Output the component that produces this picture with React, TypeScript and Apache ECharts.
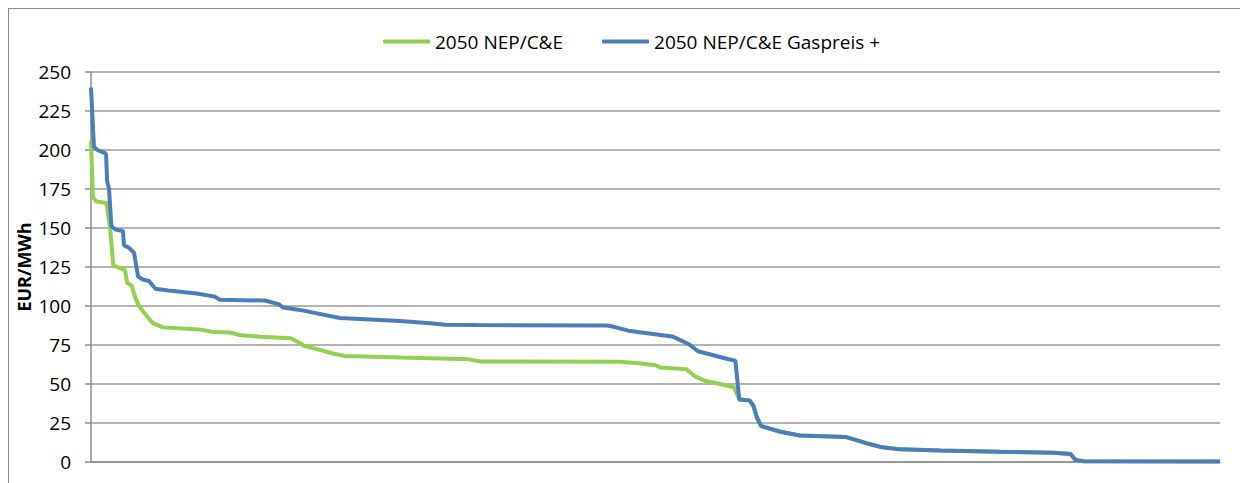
import React, { useEffect, useRef } from "react";
import * as echarts from "echarts";

const seriesNames = ["2050 NEP/C&E", "2050 NEP/C&E Gaspreis +"];
const yTicks = [0, 25, 50, 75, 100, 125, 150, 175, 200, 225, 250];

const greenHours = [0, 15, 40, 120, 147, 173, 220, 264, 280, 316, 341, 367, 406, 480, 560, 840, 940, 1080, 1150, 1310, 1550, 1630, 1650, 1760, 1870, 1970, 2400, 2930, 3020, 4100, 4250, 4380, 4420, 4620, 4690, 4770, 4880, 4990, 5030, 5110, 5140, 5165, 5200, 5350, 5500, 5860, 5920, 6040, 6140, 6280, 6590, 7050, 7470, 7600, 7640, 7700, 8760];
const greenPrices = [206, 170, 167, 166, 151, 126, 124.5, 123, 115, 113, 106, 100.6, 96.3, 89, 86.3, 85, 83.5, 83, 81.4, 80.3, 79.3, 76, 74.5, 72.2, 69.7, 68, 67, 65.8, 64.5, 64.2, 63.3, 62, 60.5, 59.4, 54.7, 51.9, 50, 47.9, 40, 39.5, 36, 29, 23, 19.4, 17, 16, 14.5, 11.5, 9.4, 8.1, 7.3, 6.6, 6, 5.1, 1.3, 0.5, 0.3];

const blueHours = [0, 23, 50, 110, 117, 125, 140, 155, 160, 190, 248, 256, 300, 334, 365, 400, 450, 500, 600, 820, 960, 1000, 1350, 1460, 1490, 1620, 1930, 2400, 2630, 2750, 3000, 4000, 4030, 4170, 4420, 4510, 4640, 4710, 4940, 5000, 5030, 5110, 5140, 5165, 5200, 5350, 5500, 5860, 5920, 6040, 6140, 6280, 6590, 7050, 7470, 7600, 7640, 7700, 8760];
const bluePrices = [240, 202, 200, 198, 197, 180, 175, 155, 151, 149, 148, 139, 137, 134, 119, 117, 116, 111, 110, 108, 106, 104, 103.5, 101, 99, 97.5, 92.3, 90.4, 89, 88, 87.8, 87.5, 87.2, 84.2, 81.4, 80.5, 75.5, 71, 66, 65, 40, 39.5, 36, 29, 23, 19.4, 17, 16, 14.5, 11.5, 9.4, 8.1, 7.3, 6.6, 6, 5.1, 1.3, 0.5, 0.3];

const zip = (xs: number[], ys: number[]) => xs.map((x, i) => [x, ys[i]]);

export default function App() {
  const ref = useRef<HTMLDivElement>(null);
  useEffect(() => {
    if (!ref.current) return;
    const chart = echarts.init(ref.current, null, { renderer: "svg" });
    const font = "'Open Sans', sans-serif";
    chart.setOption({
      animation: false,
      textStyle: { fontFamily: font },
      legend: {
        left: 369,
        top: 18,
        icon: "roundRect",
        itemWidth: 47,
        itemHeight: 4,
        itemGap: 39,
        textStyle: { fontFamily: font, fontSize: 19, color: "#000" },
        data: seriesNames,
      },
      grid: { left: 82, right: 28, top: 63, bottom: 21, containLabel: false, outerBoundsMode: "none" },
      xAxis: {
        type: "value",
        min: 0,
        max: 8760,
        axisLine: { show: true, lineStyle: { color: "#8c8c8c", width: 1.5 } },
        axisTick: { show: false },
        axisLabel: { show: false },
        splitLine: { show: false },
      },
      yAxis: {
        type: "value",
        min: yTicks[0],
        max: yTicks[yTicks.length - 1],
        interval: 25,
        name: "EUR/MWh",
        nameLocation: "middle",
        nameGap: 58,
        nameMoveOverlap: false,
        nameTextStyle: { fontFamily: font, fontSize: 18, fontWeight: "bold", color: "#000" },
        axisLine: { show: true, lineStyle: { color: "#8c8c8c", width: 1.5 } },
        axisTick: { show: true, length: 6, lineStyle: { color: "#8c8c8c", width: 1.5 } },
        axisLabel: { margin: 20, fontFamily: font, fontSize: 19, color: "#000" },
        splitLine: { show: true, lineStyle: { color: "#9a9a9a", width: 1.5 } },
      },
      series: [
        {
          name: seriesNames[0],
          type: "line",
          symbol: "none",
          data: zip(greenHours, greenPrices),
          lineStyle: { color: "#92D050", width: 4 },
          itemStyle: { color: "#92D050" },
        },
        {
          name: seriesNames[1],
          type: "line",
          symbol: "none",
          data: zip(blueHours, bluePrices),
          lineStyle: { color: "#4A7EBB", width: 4 },
          itemStyle: { color: "#4A7EBB" },
        },
      ],
    });
    return () => chart.dispose();
  }, []);
  return (
    <div
      style={{
        width: 1240,
        height: 475,
        boxSizing: "border-box",
        borderLeft: "1px solid #8c8c8c",
        borderTop: "1px solid #8c8c8c",
        overflow: "hidden",
      }}
    >
      <div ref={ref} style={{ width: 1239, height: 474 }} />
    </div>
  );
}
